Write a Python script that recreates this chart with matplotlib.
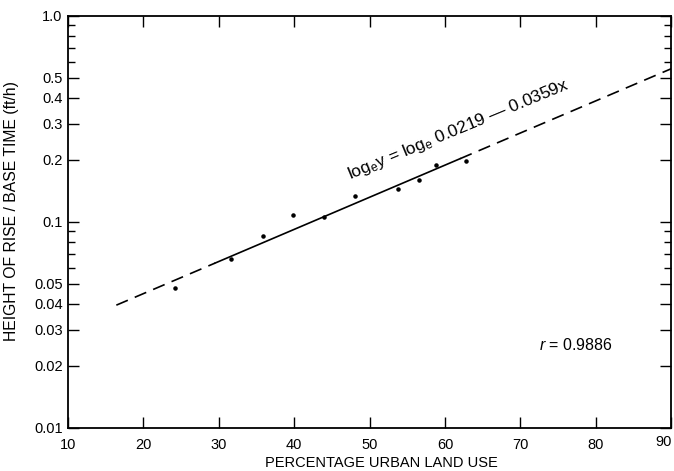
import numpy as np
import matplotlib
matplotlib.use("Agg")
import matplotlib.pyplot as plt
import matplotlib.transforms as mtransforms

plt.rcParams['font.family'] = ['Liberation Sans', 'DejaVu Sans']
plt.rcParams['mathtext.fontset'] = 'custom'
plt.rcParams['mathtext.rm'] = 'Liberation Sans'
plt.rcParams['mathtext.it'] = 'Liberation Sans:italic'

# Observed points
urban_pct = [24.2, 31.6, 35.9, 39.8, 43.9, 48.1, 53.7, 56.5, 58.8, 62.8]
rise_rate = [0.048, 0.066, 0.085, 0.108, 0.106, 0.133, 0.145, 0.160, 0.188, 0.198]

# Regression: ln y = ln a + b x
coef_a = 0.0219
coef_b = 0.0359
fit_solid_range = [29.5, 62.0]
fit_dash_low = [16.4, 29.5]
fit_dash_high = [62.0, 90.0]

x_ticks = [10, 20, 30, 40, 50, 60, 70, 80, 90]
y_ticks = [0.01, 0.02, 0.03, 0.04, 0.05, 0.1, 0.2, 0.3, 0.4, 0.5, 1.0]
y_tick_labels = ['0.01', '0.02', '0.03', '0.04', '0.05', '0.1', '0.2', '0.3', '0.4', '0.5', '1.0']
y_minor = [0.06, 0.07, 0.08, 0.09, 0.6, 0.7, 0.8, 0.9]

fig = plt.figure(figsize=(6.74, 4.71), dpi=100)
ax = fig.add_axes([0.101, 0.0913, 0.895, 0.875])

def fit(x):
    x = np.asarray(x)
    return coef_a * np.exp(coef_b * x)

xs = np.linspace(*fit_solid_range, 50)
ax.plot(xs, fit(xs), color='black', lw=1.2)
for rng in (fit_dash_low, fit_dash_high):
    xd = np.linspace(*rng, 50)
    ax.plot(xd, fit(xd), color='black', lw=1.2, dashes=(7.5, 4.5))

ax.scatter(urban_pct, rise_rate, s=5, color='black', zorder=3)

ax.set_yscale('log')
ax.set_xlim(10, 90)
ax.set_ylim(0.01, 1.0)
ax.set_xticks(x_ticks)
# last label drawn separately so that it stays inside the figure
ax.set_xticklabels([str(v) for v in x_ticks[:-1]] + [''])
ax.set_yticks(y_ticks)
ax.set_yticklabels(y_tick_labels)
ax.set_yticks(y_minor, minor=True)
ax.set_xticks([], minor=True)
ax.tick_params(which='major', direction='in', length=8, width=1, top=True, right=True,
               labelsize=10.5, pad=4)
ax.tick_params(which='minor', direction='in', length=5, width=1, top=True, right=True)
ax.tick_params(axis='x', which='major', pad=7)
for s in ax.spines.values():
    s.set_linewidth(1.3)

trans = mtransforms.blended_transform_factory(ax.transData, ax.transAxes)
ax.text(x_ticks[-1], -0.017, str(x_ticks[-1]), transform=trans, ha='right', va='top',
        fontsize=10.5)

ax.set_xlabel('PERCENTAGE URBAN LAND USE', fontsize=10.5)
ax.xaxis.set_label_coords(0.52, -0.068)
ax.set_ylabel('HEIGHT OF RISE / BASE TIME (ft/h)', fontsize=11.3)
ax.yaxis.set_label_coords(-0.082, 0.527)

ax.text(61.8, 0.28, r'log$_\mathrm{e}$y = log$_\mathrm{e}$ 0.0219 — 0.0359x',
        rotation=22.5, ha='center', va='center', fontsize=12.5, rotation_mode='anchor')
ax.text(77.4, 0.0253, r'$\mathit{r}$ = 0.9886', ha='center', va='center', fontsize=11.5)

fig.savefig('out.png', dpi=100)
